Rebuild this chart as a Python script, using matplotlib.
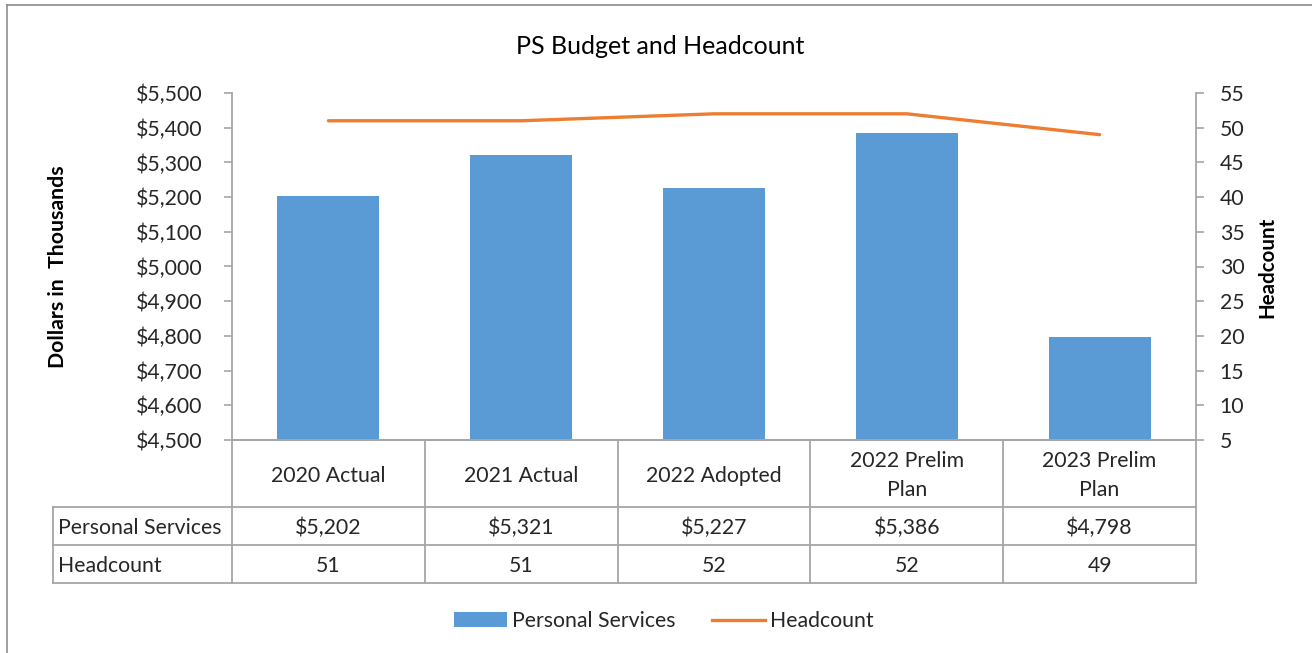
import matplotlib
matplotlib.use("Agg")
import matplotlib.pyplot as plt
import matplotlib.transforms as mtransforms
from matplotlib.patches import Patch
from matplotlib.lines import Line2D

categories = ["2020 Actual", "2021 Actual", "2022 Adopted", "2022 Prelim\nPlan", "2023 Prelim\nPlan"]
personal_services = [5202, 5321, 5227, 5386, 4798]
headcount = [51, 51, 52, 52, 49]
left_ticks = [4500, 4600, 4700, 4800, 4900, 5000, 5100, 5200, 5300, 5400, 5500]
right_ticks = [5, 10, 15, 20, 25, 30, 35, 40, 45, 50, 55]

plt.rcParams['font.family'] = ['Lato', 'DejaVu Sans']
TXT = '#262626'
GRID = '#A6A6A6'
BAR = '#5B9BD5'
LINE = '#ED7D31'
FS = 15.3

W, H = 1312, 653
fig = plt.figure(figsize=(W / 100, H / 100), dpi=100)

def fy(y):
    return 1 - y / H

trf = fig.transFigure
# outer border (only top and left visible)
fig.add_artist(Line2D([7 / W, 1.0], [fy(5), fy(5)], transform=trf, color='#8C8C8C', lw=1.2))
fig.add_artist(Line2D([7 / W, 7 / W], [fy(5), 0.0], transform=trf, color='#8C8C8C', lw=1.2))

ax = fig.add_axes([232 / W, fy(440), (1196 - 232) / W, (440 - 93) / H])
x = list(range(len(categories)))
ax.bar(x, personal_services, width=0.53, color=BAR, zorder=2)
ax.set_xlim(-0.5, len(categories) - 0.5)
ax.set_ylim(4500, 5500)
ax.set_yticks(left_ticks)
ax.set_yticklabels([f"${v:,}" for v in left_ticks], fontsize=FS, color=TXT)
ax.set_xticks([])
for s in ['top', 'right']:
    ax.spines[s].set_visible(False)
ax.spines['left'].set_color(GRID)
ax.spines['bottom'].set_color(GRID)
ax.spines['left'].set_linewidth(1.3)
ax.spines['bottom'].set_linewidth(1.3)
ax.tick_params(axis='y', direction='out', length=6, width=1.2, color=GRID, pad=15)

ax2 = ax.twinx()
ax2.plot(x, headcount, color=LINE, lw=2.4, zorder=3, solid_capstyle='round')
ax2.set_ylim(5, 55)
ax2.set_yticks(right_ticks)
ax2.set_yticklabels([str(v) for v in right_ticks], fontsize=FS, color=TXT)
for s in ['top', 'left', 'bottom']:
    ax2.spines[s].set_visible(False)
ax2.spines['right'].set_color(GRID)
ax2.spines['right'].set_linewidth(1.3)
ax2.tick_params(axis='y', direction='out', length=6, width=1.2, color=GRID, pad=11)

fig.text(660 / W, fy(46), "PS Budget and Headcount", ha='center', va='center', fontsize=18, color='black')
fig.text(58 / W, fy(267), "Dollars in  Thousands", rotation=90, ha='center', va='center',
         fontsize=15.3, fontweight='bold', color='black')
fig.text(1267 / W, fy(267), "Headcount", rotation=90, ha='center', va='center',
         fontsize=14.8, fontweight='bold', color='black')

# data table
tr = mtransforms.blended_transform_factory(ax.transData, fig.transFigure)
n = len(categories)
xl, xr = -0.5, n - 0.5
rows_y = [440, 507, 545, 583]
lkw = dict(color=GRID, lw=1.3, clip_on=False)
fig.add_artist(Line2D([xl, xr], [fy(440), fy(440)], transform=tr, **lkw))
for yy in rows_y[1:]:
    fig.add_artist(Line2D([xl, xr], [fy(yy), fy(yy)], transform=tr, **lkw))
    fig.add_artist(Line2D([53 / W, 232 / W], [fy(yy), fy(yy)], transform=trf, **lkw))
for i in range(n + 1):
    fig.add_artist(Line2D([i - 0.5, i - 0.5], [fy(440), fy(583)], transform=tr, **lkw))
fig.add_artist(Line2D([53 / W, 53 / W], [fy(507), fy(583)], transform=trf, **lkw))

for i, c in enumerate(categories):
    fig.text(i, fy(475.5), c, transform=tr, ha='center', va='center', fontsize=FS,
             color=TXT, linespacing=1.6)
    fig.text(i, fy(527.5), f"${personal_services[i]:,}", transform=tr, ha='center', va='center',
             fontsize=FS, color=TXT)
    fig.text(i, fy(565.5), str(headcount[i]), transform=tr, ha='center', va='center',
             fontsize=FS, color=TXT)
fig.text(58 / W, fy(527.5), "Personal Services", ha='left', va='center', fontsize=FS, color=TXT)
fig.text(58 / W, fy(565.5), "Headcount", ha='left', va='center', fontsize=FS, color=TXT)

handles = [Patch(facecolor=BAR, edgecolor='none', label='Personal Services'),
           Line2D([0], [0], color=LINE, lw=2.4, label='Headcount')]
leg = fig.legend(handles=handles, loc='center', bbox_to_anchor=(664 / W, fy(621)), ncol=2,
                 frameon=False, fontsize=FS, handlelength=2.5, handleheight=0.7,
                 handletextpad=0.25, columnspacing=1.7)
for t in leg.get_texts():
    t.set_color(TXT)

fig.savefig("out.png", dpi=100)
